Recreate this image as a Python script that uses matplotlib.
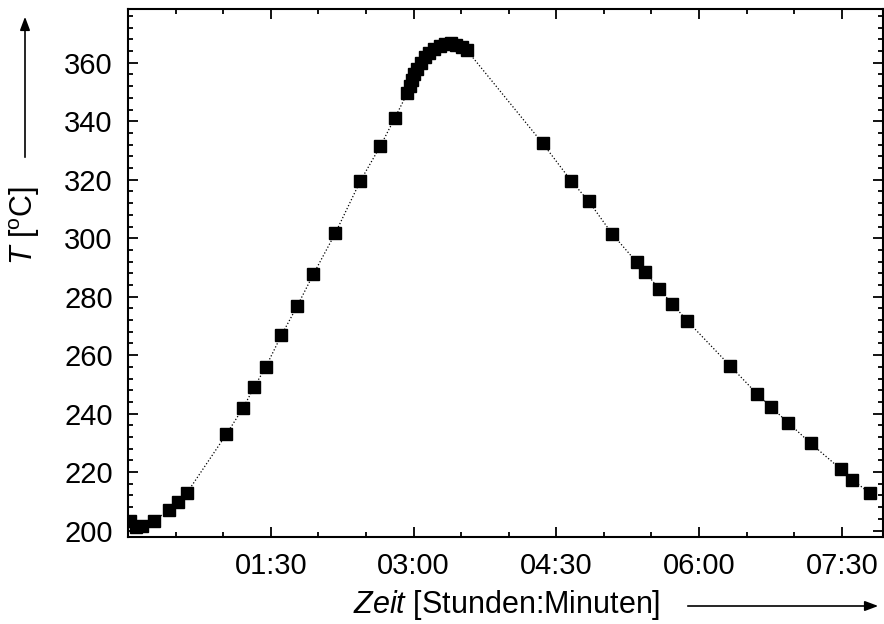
import matplotlib
matplotlib.use("Agg")
import matplotlib.pyplot as plt
from matplotlib.ticker import MultipleLocator, FuncFormatter

plt.rcParams['font.family'] = ['Liberation Sans', 'DejaVu Sans']
plt.rcParams['mathtext.fontset'] = 'custom'
plt.rcParams['mathtext.rm'] = 'Liberation Sans'
plt.rcParams['mathtext.it'] = 'Liberation Sans:italic'

# Zeit in Minuten, Temperatur in °C
zeit_min = [1, 4.8, 9, 16.3, 25.8, 31.7, 37.3,
            62.1, 72.4, 79.7, 86.8, 96.7, 106.6, 116.9, 130.7, 146.5, 159.1, 168.1,
            176, 177.5, 179, 180.5, 182.5, 184.5, 187, 190, 193, 196.5, 200, 203.5,
            207, 210.5, 213.5,
            261.5, 279.3, 290.5, 305.2, 320.7, 326, 335, 343.1, 352.6,
            379.7, 396.7, 405.3, 416.4, 430.3, 449.6, 456.7, 467.6]
temp = [203.3, 201.2, 201.6, 203.4, 207, 209.9, 213,
        233.0, 241.8, 249.2, 255.9, 266.8, 276.7, 287.7, 301.7, 319.6, 331.5, 341.0,
        349.5, 352, 354, 356, 358, 360, 362, 363.5, 364.8, 365.8, 366.4, 366.6,
        366.2, 365.4, 364.4,
        332.4, 319.7, 312.6, 301.5, 291.8, 288.5, 282.5, 277.6, 271.7,
        256.3, 246.7, 242.3, 236.8, 229.9, 220.9, 217.3, 212.9]


def hhmm(x, pos):
    m = int(round(x))
    if m <= 0:
        return ""
    return "%02d:%02d" % (m // 60, m % 60)


fig = plt.figure(figsize=(8.84, 6.24), dpi=100)
ax = fig.add_axes([128 / 884, 1 - 537 / 624, 755 / 884, 528 / 624])

ax.plot(zeit_min, temp, color='black', linestyle=':', linewidth=0.9,
        marker='s', markersize=8.8, markerfacecolor='black', markeredgecolor='black')

ax.set_xlim(0, 476)
ax.set_ylim(197.8, 378.4)

ax.xaxis.set_major_locator(MultipleLocator(90))
ax.xaxis.set_minor_locator(MultipleLocator(30))
ax.xaxis.set_major_formatter(FuncFormatter(hhmm))
ax.yaxis.set_major_locator(MultipleLocator(20))
ax.yaxis.set_minor_locator(MultipleLocator(4))

ax.tick_params(which='both', direction='in', top=True, right=True, width=1.3)
ax.tick_params(which='major', length=7, labelsize=21, pad=11)
ax.tick_params(which='minor', length=3.3)
for s in ax.spines.values():
    s.set_linewidth(1.5)

# Achsenbeschriftungen mit Pfeilen
fig.text(25 / 884, 1 - 225 / 624, r"$T$ [$^{\mathrm{o}}$C]", rotation=90,
         ha='center', va='center', fontsize=22)
fig.text(507 / 884, 1 - 605 / 624, r"$Zeit$ [Stunden:Minuten]",
         ha='center', va='center', fontsize=22)

fig.patches.append(matplotlib.patches.FancyArrowPatch(
    (25 / 884, 1 - 160 / 624), (25 / 884, 1 - 14 / 624), transform=fig.transFigure,
    arrowstyle='-|>,head_length=8,head_width=3', color='black', linewidth=1.2))
fig.patches.append(matplotlib.patches.FancyArrowPatch(
    (685 / 884, 1 - 606 / 624), (881 / 884, 1 - 606 / 624), transform=fig.transFigure,
    arrowstyle='-|>,head_length=8,head_width=3', color='black', linewidth=1.2))

fig.savefig("out.png", dpi=100)
